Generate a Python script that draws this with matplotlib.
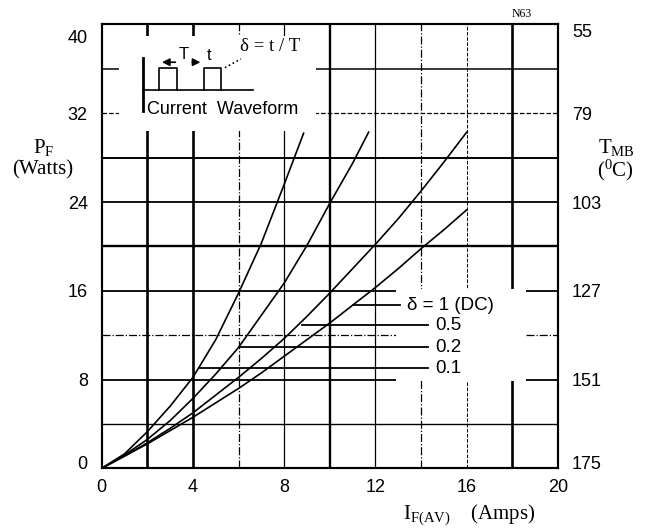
import numpy as np
import matplotlib
matplotlib.use("Agg")
import matplotlib.pyplot as plt
from matplotlib.patches import Rectangle
from matplotlib.transforms import ScaledTranslation

plt.rcParams['font.family'] = ['Liberation Sans', 'DejaVu Sans']
plt.rcParams['mathtext.fontset'] = 'custom'
plt.rcParams['mathtext.rm'] = 'Liberation Serif'
plt.rcParams['mathtext.it'] = 'Liberation Serif:italic'

# ---- data ----
x_ticks = [0, 4, 8, 12, 16, 20]
pf_ticks = [0, 8, 16, 24, 32, 40]
tmb_labels = [175, 151, 127, 103, 79, 55]

d01_x = [0, 1, 2, 3, 4, 5, 6, 7, 8, 8.85]
d01_y = [0, 1.3, 3.3, 5.6, 8.2, 11.6, 15.8, 20.3, 25.6, 30.2]

d02_x = [0, 1, 2, 3, 4, 5, 6, 7, 8, 9, 10, 11, 11.7]
d02_y = [0, 1.2, 2.6, 4.3, 6.3, 8.5, 10.9, 13.8, 16.7, 20.1, 23.9, 27.5, 30.3]

d05_x = [0, 1, 2, 3, 4, 5, 6, 7, 8, 9, 10, 11, 12, 13, 14, 15, 16]
d05_y = [0, 1.1, 2.3, 3.6, 5.0, 6.6, 8.2, 9.9, 11.7, 13.7, 15.8, 18.0, 20.2, 22.5, 25.0, 27.6, 30.3]

dc_x = [0, 1, 2, 3, 4, 5, 6, 7, 8, 9, 10, 11, 12, 13, 14, 15, 16]
dc_y = [0, 1.1, 2.2, 3.4, 4.6, 5.9, 7.2, 8.6, 10.1, 11.6, 13.1, 14.7, 16.3, 18.0, 19.8, 21.5, 23.3]

curve_labels = ["\u03b4 = 1 (DC)", "0.5", "0.2", "0.1"]
leader_y = [14.7, 12.9, 10.9, 9.0]
leader_x0 = [11.0, 8.76, 6.0, 4.3]
leader_x1 = [13.07, 14.3, 14.3, 14.3]

# ---- figure ----
fig = plt.figure(figsize=(6.54, 5.29), dpi=100)
ax = fig.add_axes([101.7/654, 60.7/529, (558-101.7)/654, (468.3-24.5)/529])
ax.set_xlim(0, 20)
ax.set_ylim(0, 40)

# grid lines
vstyles = {2: ('-', 1.9), 4: ('-', 1.9), 6: ('-.', 0.9), 8: ('-', 0.9),
           10: ('-', 1.7), 12: ('-', 0.9), 14: ('-.', 0.9), 16: ('--', 0.7), 18: ('-', 1.9)}
hstyles = {4: ('-', 1.0), 8: ('-', 1.3), 12: ('-.', 0.9), 16: ('-', 1.3),
           20: ('-', 1.7), 24: ('-', 1.3), 28: ('-', 1.4), 32: ('--', 0.9), 36: ('-', 1.1)}
for xv, (ls, lw) in vstyles.items():
    ax.axvline(xv, color='black', ls=ls, lw=lw, zorder=1)
for yv, (ls, lw) in hstyles.items():
    ax.axhline(yv, color='black', ls=ls, lw=lw, zorder=1)

# blank areas (inset and label area)
ax.add_patch(Rectangle((0.75, 30.4), 9.4-0.75, 39.0-30.4, facecolor='white',
                       edgecolor='none', zorder=1.5))
ax.add_patch(Rectangle((12.9, 7.85), 18.6-12.9, 16.15-7.85, facecolor='white',
                       edgecolor='none', zorder=1.5))

# curves
for xs, ys in [(d01_x, d01_y), (d02_x, d02_y), (d05_x, d05_y), (dc_x, dc_y)]:
    ax.plot(xs, ys, color='black', lw=1.2, zorder=3)

# leaders and labels
for lab, ly, lx0, lx1 in zip(curve_labels, leader_y, leader_x0, leader_x1):
    ax.plot([lx0, lx1], [ly, ly], color='black', lw=1.3, zorder=3)
    ax.text(lx1 + 0.3, ly, lab, fontsize=13.5, va='center', ha='left', zorder=4)

# inset waveform
ax.plot([1.8, 1.8], [32.2, 36.96], color='black', lw=2, zorder=3)
ax.plot([1.8, 6.63], [34.1, 34.1], color='black', lw=1.2, zorder=3)
for p0, p1 in [(2.52, 3.29), (4.48, 5.23)]:
    ax.plot([p0, p0, p1, p1], [34.1, 36.04, 36.04, 34.1], color='black', lw=1.2, zorder=3)
ax.plot([5.4, 6.1], [36.1, 36.9], color='black', lw=1.2, ls=':', zorder=3)
ax.annotate('', xy=(2.52, 36.6), xytext=(3.35, 36.6),
            arrowprops=dict(arrowstyle='-|>', color='black', lw=1.2, mutation_scale=11), zorder=3)
ax.annotate('', xy=(4.45, 36.6), xytext=(3.85, 36.6),
            arrowprops=dict(arrowstyle='-|>', color='black', lw=1.2, mutation_scale=11), zorder=3)
ax.text(3.6, 37.3, 'T', fontsize=12, ha='center', va='center', zorder=4)
ax.text(4.7, 37.2, 't', fontsize=12, ha='center', va='center', zorder=4)
ax.text(7.4, 38.0, '\u03b4 = t / T', fontsize=13.5, ha='center', va='center',
        family=['Liberation Serif', 'DejaVu Serif'], zorder=4)
ax.text(2.0, 32.3, 'Current  Waveform', fontsize=13, ha='left', va='center', zorder=4)

# axes styling
ax.set_xticks(x_ticks)
ax.set_yticks(pf_ticks)
ax.tick_params(length=0, labelsize=13, pad=8)
ax.tick_params(axis='y', pad=10)
for sp in ax.spines.values():
    sp.set_linewidth(1.5)

ax2 = ax.twinx()
ax2.set_ylim(0, 40)
ax2.set_yticks(pf_ticks)
ax2.set_yticklabels([str(v) for v in tmb_labels])
ax2.tick_params(length=0, labelsize=13, pad=10)
for sp in ax2.spines.values():
    sp.set_linewidth(1.5)

fig.canvas.draw()
ylabs = ax.get_yticklabels()
ylabs[-1].set_transform(ylabs[-1].get_transform() + ScaledTranslation(0, -9/72, fig.dpi_scale_trans))
ylabs[0].set_transform(ylabs[0].get_transform() + ScaledTranslation(0, 4/72, fig.dpi_scale_trans))
rlabs = ax2.get_yticklabels()
rlabs[-1].set_transform(rlabs[-1].get_transform() + ScaledTranslation(0, -4/72, fig.dpi_scale_trans))
rlabs[0].set_transform(rlabs[0].get_transform() + ScaledTranslation(0, 4/72, fig.dpi_scale_trans))

serif = ['Liberation Serif', 'DejaVu Serif']
fig.text(44/654, 1-148/529, r'P$_{\mathregular{F}}$', fontsize=15, ha='center', va='center', family=serif)
fig.text(43/654, 1-170/529, '(Watts)', fontsize=15, ha='center', va='center', family=serif)
fig.text(616/654, 1-147/529, r'T$_{\mathregular{MB}}$', fontsize=15, ha='center', va='center', family=serif)
fig.text(615/654, 1-170/529, r'($^{\mathregular{0}}$C)', fontsize=15, ha='center', va='center', family=serif)
fig.text(469/654, 1-515/529, r'I$_{\mathregular{F(AV)}}$    (Amps)', fontsize=15, ha='center', va='center', family=serif)
fig.text(522/654, 1-14/529, 'N63', fontsize=8.5, ha='center', va='center', family=serif)

fig.savefig('out.png', dpi=100, facecolor='white')
